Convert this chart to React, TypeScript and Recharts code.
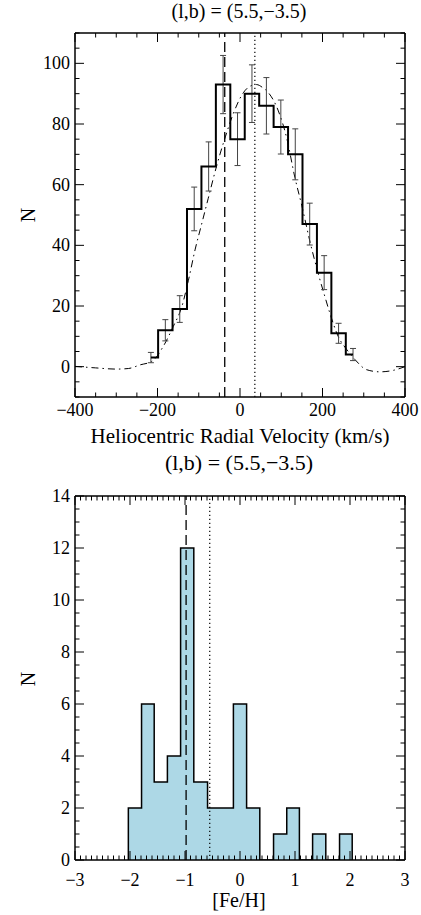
import React from 'react';
import { ComposedChart, Line, Area, XAxis, YAxis, ReferenceLine, ErrorBar } from 'recharts';

// ---------- Data: top panel (velocity histogram) ----------
const velCenters = [-216, -181, -146, -111, -76, -41, -6, 29, 64, 99, 134, 169, 204, 239, 274];
const velCounts = [3, 12, 19, 52, 66, 93, 75, 90, 86, 79, 70, 47, 31, 11, 4];
const velErrors = [1.7, 3.5, 4.4, 7.2, 8.1, 9.6, 8.7, 9.5, 9.3, 8.9, 8.4, 6.9, 5.6, 3.3, 2.0];
const fitVel = [-400, -350, -300, -270, -242, -214, -186, -162, -141, -125, -109, -93, -77, -57, -35, -16, 8, 25, 40, 55, 69, 93, 113, 133, 150, 170, 190, 206, 218, 238, 259, 279, 307, 339, 372, 400];
const fitN = [0.1, -0.4, -0.8, -0.6, 0.6, 1.7, 6.7, 13.2, 19.8, 28.5, 38.5, 47, 55.5, 66, 76, 83.5, 90.3, 92.5, 93, 92, 90.3, 84.3, 75.5, 62.4, 53, 41, 30.5, 23, 17.6, 10, 5.6, 2.3, -1.0, -1.7, -1.2, 0.0];
const velDashed = -37;
const velDotted = 36;
const velMajorX = [-400, -200, 0, 200, 400];
const velMajorY = [0, 20, 40, 60, 80, 100];

// ---------- Data: bottom panel ([Fe/H] histogram) ----------
const fehEdges = [-2.03, -1.79, -1.56, -1.32, -1.08, -0.84, -0.59, -0.35, -0.12, 0.12, 0.36, 0.61, 0.85, 1.08, 1.32, 1.56, 1.81, 2.04];
const fehCounts = [2, 6, 3, 4, 12, 3, 2, 2, 6, 2, 0, 1, 2, 0, 1, 0, 1];
const fehDashed = -0.98;
const fehDotted = -0.55;
const fehMajorX = [-3, -2, -1, 0, 1, 2, 3];
const fehMajorY = [0, 2, 4, 6, 8, 10, 12, 14];

const titleText = '(l,b) = (5.5,\u22123.5)';

const FONT = "'Liberation Serif', 'Times New Roman', Tinos, 'DejaVu Serif', serif";

const range = (a: number, b: number, step: number) => {
  const n = Math.round((b - a) / step);
  return Array.from({ length: n + 1 }, (_, i) => Math.round((a + i * step) * 1000) / 1000);
};

const velTicksX = range(-400, 400, 50);
const velTicksY = range(-10, 110, 5);
const fehTicksX = range(-3, 3, 0.1);
const fehTicksY = range(0, 14, 0.5);

const fmt = (v: number) => (v < 0 ? '\u2212' + Math.abs(v) : String(v));

type Side = 'bottom' | 'top' | 'left' | 'right';

function tickRenderer(side: Side, majors: number[], majorLen: number, minorLen: number, labelOffset?: number) {
  return (props: any) => {
    const { x, y, payload } = props;
    const v = Number(payload.value);
    const major = majors.some((m) => Math.abs(m - v) < 1e-6);
    const len = major ? majorLen : minorLen;
    let x2 = x;
    let y2 = y;
    if (side === 'bottom') y2 = y - len;
    else if (side === 'top') y2 = y + len;
    else if (side === 'left') x2 = x + len;
    else x2 = x - len;
    const show = labelOffset !== undefined && major;
    return (
      <g>
        <line x1={x} y1={y} x2={x2} y2={y2} stroke="#000" strokeWidth={1} />
        {show && side === 'bottom' && (
          <text x={x} y={y + (labelOffset as number)} textAnchor="middle" style={{ fontFamily: FONT, fontSize: 18 }} fill="#000">
            {fmt(v)}
          </text>
        )}
        {show && side === 'left' && (
          <text x={x - (labelOffset as number)} y={y + 6} textAnchor="end" style={{ fontFamily: FONT, fontSize: 18 }} fill="#000">
            {fmt(v)}
          </text>
        )}
      </g>
    );
  };
}

function Txt({ x, y, size, rotate, children }: { x: number; y: number; size: number; rotate?: number; children: React.ReactNode }) {
  return (
    <div
      style={{
        position: 'absolute',
        left: x,
        top: y,
        transform: `translate(-50%, -50%)${rotate ? ` rotate(${rotate}deg)` : ''}`,
        fontFamily: FONT,
        fontSize: size,
        lineHeight: 1,
        whiteSpace: 'nowrap',
        color: '#000',
      }}
    >
      {children}
    </div>
  );
}

const axisLine = { stroke: '#000', strokeWidth: 1.5 };

export default function App() {
  const velHist = velCenters.map((v, i) => ({ x: v, n: velCounts[i], e: velErrors[i] }));
  const fit = fitVel.map((v, i) => ({ x: v, f: fitN[i] }));

  const fehStep: { x: number; c: number }[] = [];
  fehStep.push({ x: fehEdges[0], c: 0 });
  fehCounts.forEach((c, i) => fehStep.push({ x: fehEdges[i], c }));
  fehStep.push({ x: fehEdges[fehEdges.length - 1], c: fehCounts[fehCounts.length - 1] });
  fehStep.push({ x: fehEdges[fehEdges.length - 1], c: 0 });

  const H1 = 460;
  const H2 = 455;
  const top2 = 460;

  return (
    <div style={{ position: 'absolute', left: 0, top: 0, width: 421, height: 915, background: '#fff', overflow: 'hidden', fontFamily: FONT }}>
      <div style={{ position: 'absolute', left: 0, top: 0 }}>
        <ComposedChart width={421} height={H1} margin={{ top: 32, right: 15, bottom: H1 - 397 - 1, left: 74 }}>
          <XAxis xAxisId="b" type="number" dataKey="x" orientation="bottom" domain={[-400, 400]} allowDataOverflow ticks={velTicksX} interval={0} tickSize={0} tickMargin={0} height={1} tickLine={false} axisLine={axisLine} tick={tickRenderer('bottom', velMajorX, 9, 4.5, 19)} />
          <XAxis xAxisId="t" type="number" dataKey="x" orientation="top" domain={[-400, 400]} allowDataOverflow ticks={velTicksX} interval={0} tickSize={0} tickMargin={0} height={1} tickLine={false} axisLine={axisLine} tick={tickRenderer('top', velMajorX, 9, 4.5)} />
          <YAxis yAxisId="l" type="number" orientation="left" domain={[-10, 110]} allowDataOverflow ticks={velTicksY} interval={0} tickSize={0} tickMargin={0} width={1} tickLine={false} axisLine={axisLine} tick={tickRenderer('left', velMajorY, 9, 4.5, 5)} />
          <YAxis yAxisId="r" type="number" orientation="right" domain={[-10, 110]} allowDataOverflow ticks={velTicksY} interval={0} tickSize={0} tickMargin={0} width={1} tickLine={false} axisLine={axisLine} tick={tickRenderer('right', velMajorY, 9, 4.5)} />
          <ReferenceLine xAxisId="b" yAxisId="l" x={velDashed} stroke="#000" strokeWidth={1.3} strokeDasharray="10 5" />
          <ReferenceLine xAxisId="b" yAxisId="l" x={velDotted} stroke="#000" strokeWidth={1.2} strokeDasharray="1.2 2.8" />
          <Line xAxisId="b" yAxisId="l" data={fit} dataKey="f" type="monotone" stroke="#000" strokeWidth={1} strokeDasharray="7 4 1.5 4" dot={false} isAnimationActive={false} />
          <Line xAxisId="b" yAxisId="l" data={velHist} dataKey="n" type="step" stroke="#000" strokeWidth={2} dot={false} isAnimationActive={false}>
            <ErrorBar dataKey="e" width={3} stroke="#444" strokeWidth={1} direction="y" />
          </Line>
        </ComposedChart>
      </div>
      <div style={{ position: 'absolute', left: 0, top: top2 }}>
        <ComposedChart width={421} height={H2} margin={{ top: 496 - top2 - 1, right: 15, bottom: H2 - (860 - top2) - 1, left: 74 }}>
          <Area xAxisId="b" yAxisId="l" data={fehStep} dataKey="c" type="stepAfter" baseValue={0} fill="#ADD8E6" fillOpacity={1} stroke="#000" strokeWidth={1.5} dot={false} activeDot={false} isAnimationActive={false} />
          <ReferenceLine xAxisId="b" yAxisId="l" x={fehDashed} stroke="#000" strokeWidth={1.3} strokeDasharray="10 5" />
          <ReferenceLine xAxisId="b" yAxisId="l" x={fehDotted} stroke="#000" strokeWidth={1.2} strokeDasharray="1.2 2.8" />
          <XAxis xAxisId="b" type="number" dataKey="x" orientation="bottom" domain={[-3, 3]} allowDataOverflow ticks={fehTicksX} interval={0} tickSize={0} tickMargin={0} height={1} tickLine={false} axisLine={axisLine} tick={tickRenderer('bottom', fehMajorX, 9, 4.5, 26)} />
          <XAxis xAxisId="t" type="number" dataKey="x" orientation="top" domain={[-3, 3]} allowDataOverflow ticks={fehTicksX} interval={0} tickSize={0} tickMargin={0} height={1} tickLine={false} axisLine={axisLine} tick={tickRenderer('top', fehMajorX, 9, 4.5)} />
          <YAxis yAxisId="l" type="number" orientation="left" domain={[0, 14]} allowDataOverflow ticks={fehTicksY} interval={0} tickSize={0} tickMargin={0} width={1} tickLine={false} axisLine={axisLine} tick={tickRenderer('left', fehMajorY, 9, 4.5, 5)} />
          <YAxis yAxisId="r" type="number" orientation="right" domain={[0, 14]} allowDataOverflow ticks={fehTicksY} interval={0} tickSize={0} tickMargin={0} width={1} tickLine={false} axisLine={axisLine} tick={tickRenderer('right', fehMajorY, 9, 4.5)} />
        </ComposedChart>
      </div>
      <Txt x={239} y={11} size={20}>{titleText}</Txt>
      <Txt x={240} y={436} size={21}>Heliocentric Radial Velocity (km/s)</Txt>
      <Txt x={28} y={215} size={20} rotate={-90}>N</Txt>
      <Txt x={239} y={463} size={22}>{titleText}</Txt>
      <Txt x={239} y={900} size={20}>[Fe/H]</Txt>
      <Txt x={28} y={679} size={20} rotate={-90}>N</Txt>
    </div>
  );
}
